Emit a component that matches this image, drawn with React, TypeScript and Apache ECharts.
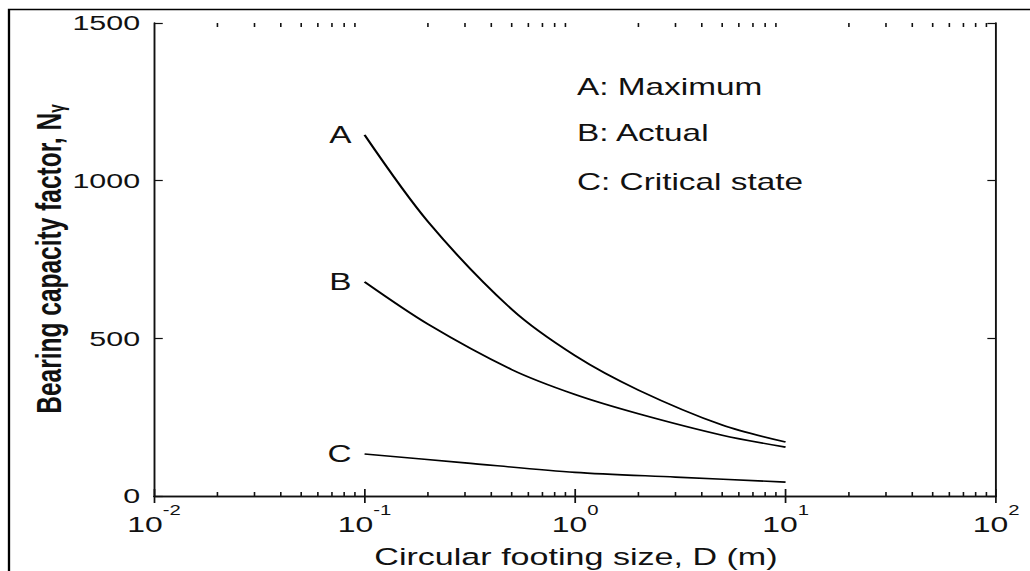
import React, { useEffect, useRef } from "react";
import * as echarts from "echarts";

// ---- data ----
const xA = [0.1, 0.2, 0.5, 1, 2, 5, 10];
const yA = [1145, 870, 592, 445, 336, 225, 171];
const xB = [0.1, 0.2, 0.5, 1, 2, 5, 10];
const yB = [679, 545, 401, 322, 261, 193, 155];
const xC = [0.1, 0.3, 1, 3, 10];
const yC = [133, 105, 75, 60, 44];
const curveNames = ["A", "B", "C"];
const legendLines = ["A: Maximum", "B: Actual", "C: Critical state"];
const minorTicks = [
  0.02, 0.03, 0.04, 0.05, 0.06, 0.07, 0.08, 0.09,
  0.2, 0.3, 0.4, 0.5, 0.6, 0.7, 0.8, 0.9,
  2, 3, 4, 5, 6, 7, 8, 9,
  20, 30, 40, 50, 60, 70, 80, 90,
];
const xMin = 0.01;
const xMax = 100;
const yMin = 0;
const yMax = 1500;
const yStep = 500;
const xTitle = "Circular footing size, D (m)";
const yTitle = "Bearing capacity factor, N";
const yTitleSub = "γ";

const SX = 1.4507; // horizontal stretch of the reference image
const W = 710;
const H = 571;
const FONT = "'Liberation Sans', Arial, Helvetica, sans-serif";
const INK = "#111";

function buildSeries(xs: number[], ys: number[], name: string) {
  const data = xs.map((x, i) => {
    if (i === 0) {
      return {
        value: [x, ys[i]],
        label: {
          show: true,
          position: "left",
          distance: 9,
          formatter: name,
          fontSize: 23,
          fontFamily: FONT,
          color: INK,
        },
      };
    }
    return [x, ys[i]];
  });
  return {
    type: "line",
    name,
    data,
    smooth: 0.3,
    symbol: "circle",
    symbolSize: 0.01,
    showSymbol: true,
    lineStyle: { color: "#000", width: 1.6 },
    itemStyle: { color: "#000" },
    label: { show: false },
    emphasis: { disabled: true },
    z: 3,
  };
}

export default function App() {
  const ref = useRef<HTMLDivElement>(null);
  useEffect(() => {
    if (!ref.current) return;
    const chart = echarts.init(ref.current, null, { renderer: "svg" });
    const axisLine = { show: true, lineStyle: { color: INK, width: 1.3 } };
    const labelFmt = (v: number) => {
      const e = Math.round(Math.log10(v));
      return "{b|10}{s|" + e + "}";
    };
    const option = {
      animation: false,
      backgroundColor: "#fff",
      grid: { left: 106.2, right: 23.4, top: 23, bottom: 75, containLabel: false },
      xAxis: [
        {
          type: "log",
          logBase: 10,
          min: xMin,
          max: xMax,
          position: "bottom",
          axisLine,
          axisTick: { show: true, inside: true, length: 7, lineStyle: { color: INK, width: 1.2 } },
          splitLine: { show: false },
          minorTick: { show: false },
          axisLabel: {
            show: true,
            margin: 7,
            formatter: labelFmt,
            color: INK,
            rich: {
              b: { fontSize: 22, fontFamily: FONT, color: INK, verticalAlign: "bottom", padding: [10, 0, 0, 0] },
              s: { fontSize: 14, fontFamily: FONT, color: INK, verticalAlign: "top" },
            },
          },
        },
        {
          type: "log",
          logBase: 10,
          min: xMin,
          max: xMax,
          position: "top",
          axisLine,
          axisTick: { show: true, inside: true, length: 7, lineStyle: { color: INK, width: 1.2 } },
          splitLine: { show: false },
          axisLabel: { show: false },
        },
      ],
      yAxis: [
        {
          type: "value",
          min: yMin,
          max: yMax,
          interval: yStep,
          position: "left",
          axisLine,
          axisTick: { show: true, inside: true, length: 6, lineStyle: { color: INK, width: 1.2 } },
          splitLine: { show: false },
          axisLabel: {
            show: true,
            margin: 9.6,
            fontSize: 21,
            fontFamily: FONT,
            color: INK,
            formatter: (v: number) => String(v),
          },
        },
        {
          type: "value",
          min: yMin,
          max: yMax,
          interval: yStep,
          position: "right",
          axisLine,
          axisTick: { show: true, inside: true, length: 6, lineStyle: { color: INK, width: 1.2 } },
          splitLine: { show: false },
          axisLabel: { show: false },
        },
      ],
      series: [
        buildSeries(xA, yA, curveNames[0]),
        buildSeries(xB, yB, curveNames[1]),
        buildSeries(xC, yC, curveNames[2]),
        {
          type: "custom",
          name: "minor ticks",
          xAxisIndex: 0,
          yAxisIndex: 0,
          data: minorTicks.map((v) => [v]),
          encode: { x: 0 },
          silent: true,
          clip: false,
          renderItem: (_p: any, api: any) => {
            const x = api.value(0);
            const b = api.coord([x, yMin]);
            const t = api.coord([x, yMax]);
            const st = { stroke: INK, lineWidth: 1.1 };
            return {
              type: "group",
              children: [
                { type: "line", shape: { x1: b[0], y1: b[1], x2: b[0], y2: b[1] - 4 }, style: st },
                { type: "line", shape: { x1: t[0], y1: t[1], x2: t[0], y2: t[1] + 4 }, style: st },
              ],
            };
          },
        },
      ],
      graphic: [
        {
          type: "rect",
          silent: true,
          shape: { x: 6.2, y: 9.5, width: 1200, height: 1200 },
          style: { fill: "none", stroke: "#000", lineWidth: 1.6 },
        },
        {
          type: "text",
          x: 397,
          y: 557,
          style: { text: xTitle, fontSize: 23.5, fontFamily: FONT, fill: INK, align: "center", verticalAlign: "middle" },
        },
        {
          type: "text",
          x: 33,
          y: 259,
          rotation: Math.PI / 2,
          style: {
            text: yTitle + "{sub|" + yTitleSub + "}",
            fontSize: 24.5,
            fontWeight: "bold",
            fontFamily: FONT,
            fill: INK,
            align: "center",
            verticalAlign: "middle",
            rich: {
              sub: { fontSize: 15.5, fontFamily: FONT, fontWeight: "bold", fill: INK, verticalAlign: "bottom", padding: [12, 0, 0, 0] },
            },
          },
        },
        ...legendLines.map((t, i) => ({
          type: "text",
          x: 397.7,
          y: [87, 133, 182][i],
          style: { text: t, fontSize: 23, fontFamily: FONT, fill: INK, align: "left", verticalAlign: "middle" },
        })),
      ],
    };
    chart.setOption(option as any);
    return () => chart.dispose();
  }, []);
  return (
    <div
      style={{
        position: "absolute",
        left: 0,
        top: 0,
        width: W,
        height: H,
        transform: `scaleX(${SX})`,
        transformOrigin: "0 0",
        background: "#fff",
      }}
    >
      <div ref={ref} style={{ width: W, height: H }} />
    </div>
  );
}
